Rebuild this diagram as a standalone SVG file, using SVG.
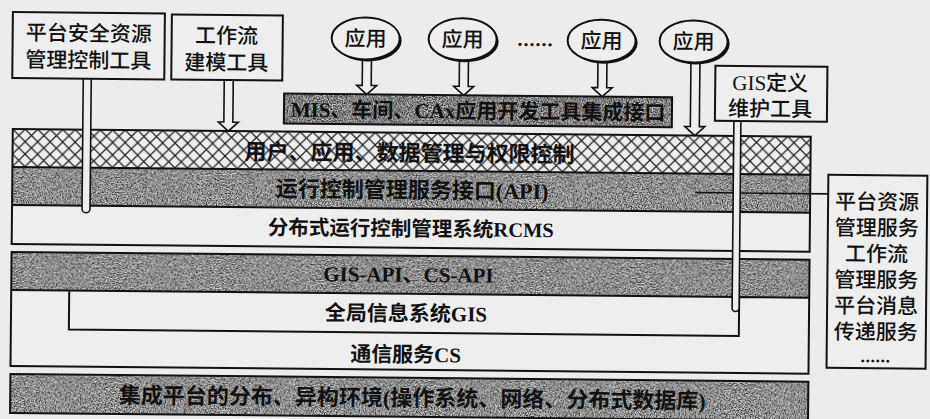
<svg xmlns="http://www.w3.org/2000/svg" width="930" height="419" viewBox="0 0 930 419">
<defs>
<pattern id="hatch" patternUnits="userSpaceOnUse" width="12.5" height="12.5" x="12" y="129">
<rect width="12.5" height="12.5" fill="#eeeeee"/>
<path d="M0,0 L12.5,12.5 M12.5,0 L0,12.5" stroke="#1e1e1e" stroke-width="1.2"/>
</pattern>
<filter id="grain" x="0" y="0" width="1" height="1" color-interpolation-filters="sRGB">
<feTurbulence type="fractalNoise" baseFrequency="0.8" numOctaves="2" seed="7" result="n"/>
<feColorMatrix in="n" type="matrix" values="0 0 0 0 0  0 0 0 0 0  0 0 0 0 0  2.6 0 0 0 -1.2" result="d"/>
<feColorMatrix in="n" type="matrix" values="0 0 0 0 1  0 0 0 0 1  0 0 0 0 1  -2.6 0 0 0 1.35" result="l"/>
<feMerge><feMergeNode in="SourceGraphic"/><feMergeNode in="d"/><feMergeNode in="l"/></feMerge>
</filter>
<style>
.box{fill:#eeeeee;stroke:#111;stroke-width:2}
.edge{fill:none;stroke:#111;stroke-width:2}
.gray{fill:#999999;filter:url(#grain)}
.dark{fill:#858585;filter:url(#grain)}
.hatch{fill:url(#hatch)}
.pipe{fill:#eeeeee;stroke:#111;stroke-width:1.6}
.line{fill:none;stroke:#111;stroke-width:1.6}
.shadow{fill:#111}
.t{font-family:'Liberation Serif','Noto Sans CJK SC',serif;font-weight:700;fill:#111;text-anchor:middle}
.n{font-family:'Liberation Serif','Noto Sans CJK SC',serif;font-weight:500;fill:#111;text-anchor:middle;font-size:21px}
</style>
</defs>
<rect x="-10" y="-10" width="950" height="440" fill="#ececec"/>
<g transform="rotate(0.55 12 210)">
<g id="layer-upper">
<rect class="hatch" x="12" y="129" width="798" height="38"/>
<rect class="gray" x="12" y="167" width="798" height="38"/>
<rect x="12" y="205" width="798" height="39" fill="#eeeeee"/>
<rect class="edge" x="12" y="129" width="798" height="115"/>
<path class="edge" d="M12,167 H810 M12,205 H810"/>
<text class="t" x="409" y="157" font-size="22">用户、应用、数据管理与权限控制</text>
<text class="t" x="412" y="194" font-size="22">运行控制管理服务接口(API)</text>
<text class="t" x="411" y="232" font-size="20.5">分布式运行控制管理系统RCMS</text>
</g>
<g id="layer-lower">
<rect class="gray" x="12" y="252" width="798" height="38"/>
<rect x="12" y="290" width="798" height="76" fill="#eeeeee"/>
<rect class="edge" x="12" y="252" width="798" height="114"/>
<path class="edge" d="M12,290 H810 M70,290 V329 H740 V290"/>
<text class="t" x="409" y="278" font-size="21">GIS-API、CS-API</text>
<text class="t" x="407" y="317" font-size="21">全局信息系统GIS</text>
<text class="t" x="407" y="358" font-size="21">通信服务CS</text>
</g>
<g id="layer-base">
<rect class="gray" x="12" y="374" width="798" height="39"/>
<rect class="edge" x="12" y="374" width="798" height="39"/>
<text class="t" x="414" y="402" font-size="22">集成平台的分布、异构环境(操作系统、网络、分布式数据库)</text>
</g>
<g id="mis-bar">
<rect class="dark" x="283" y="91" width="388" height="30"/>
<rect class="edge" x="283" y="91" width="388" height="30"/>
<text class="t" x="477" y="114" font-size="21">MIS、车间、CAx应用开发工具集成接口</text>
</g>
<g id="connectors">
<path class="line" d="M695,186 H828"/>
<path class="pipe" d="M82,78 V208 A4,4 0 0 0 90,208 V78"/>
<path class="pipe" d="M733,114 V301 A3.5,3.5 0 0 0 740,301 V114"/>
<path class="pipe" d="M223,78 V120 H217.5 L227.5,129 L237.5,120 H232 V78"/>
<path class="pipe" d="M361,52 V82 H355.5 L365.5,91 L375.5,82 H370 V52"/>
<path class="pipe" d="M458,52 V82 H452.5 L462.5,91 L472.5,82 H467 V52"/>
<path class="pipe" d="M596.5,52 V82 H591 L601,91 L611,82 H605.5 V52"/>
<path class="pipe" d="M689.5,52 V120 H684 L694,129 L704,120 H698.5 V52"/>
</g>
<g id="tool-security">
<rect class="box" x="11" y="12" width="152" height="66"/>
<text class="n" x="87" y="40">平台安全资源</text>
<text class="n" x="87" y="67">管理控制工具</text>
</g>
<g id="tool-workflow">
<rect class="box" x="170" y="13" width="111" height="65"/>
<text class="n" x="225" y="41">工作流</text>
<text class="n" x="225" y="68">建模工具</text>
</g>
<g id="tool-gis">
<rect class="box" x="714" y="59" width="112" height="55"/>
<text class="n" x="769" y="83">GIS定义</text>
<text class="n" x="769" y="109">维护工具</text>
</g>
<g id="app-1">
<ellipse class="shadow" cx="366" cy="37" rx="34" ry="21"/>
<ellipse class="box" cx="364" cy="35" rx="34" ry="21"/>
<text class="n" x="364" y="42.5" font-size="20">应用</text>
</g>
<g id="app-2">
<ellipse class="shadow" cx="463" cy="37" rx="34" ry="21"/>
<ellipse class="box" cx="461" cy="35" rx="34" ry="21"/>
<text class="n" x="461" y="42.5" font-size="20">应用</text>
</g>
<g id="app-dots">
<text class="t" x="534" y="41" font-size="20" letter-spacing="1">......</text>
</g>
<g id="app-3">
<ellipse class="shadow" cx="602" cy="37" rx="34" ry="21"/>
<ellipse class="box" cx="600" cy="35" rx="34" ry="21"/>
<text class="n" x="600" y="42.5" font-size="20">应用</text>
</g>
<g id="app-4">
<ellipse class="shadow" cx="694" cy="37" rx="34" ry="21"/>
<ellipse class="box" cx="692" cy="35" rx="34" ry="21"/>
<text class="n" x="692" y="42.5" font-size="20">应用</text>
</g>
<g id="platform-services">
<rect class="box" x="828" y="167" width="99" height="193"/>
<text class="n" x="877" y="201">平台资源</text>
<text class="n" x="877" y="227">管理服务</text>
<text class="n" x="877" y="253">工作流</text>
<text class="n" x="877" y="279">管理服务</text>
<text class="n" x="877" y="305">平台消息</text>
<text class="n" x="877" y="331">传递服务</text>
<text class="t" x="877" y="354" font-size="18" letter-spacing="0.5">......</text>
</g>
</g>
</svg>
